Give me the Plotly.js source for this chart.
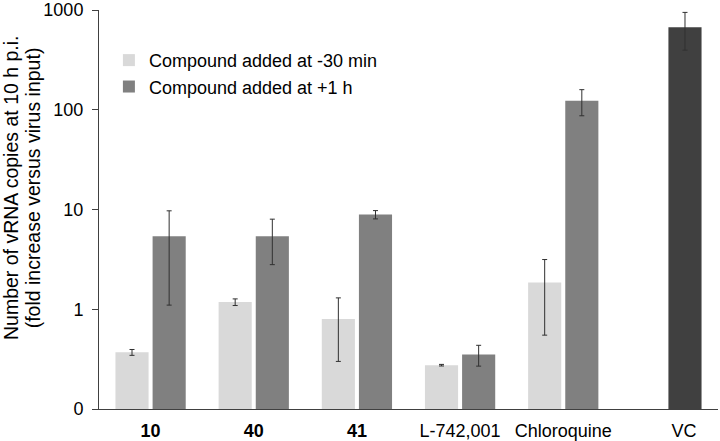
<!DOCTYPE html>
<html>
<head>
<meta charset="utf-8">
<script src="https://cdn.plot.ly/plotly-3.0.1.min.js"></script>
<style>html,body{margin:0;padding:0;background:#fff;}#chart{width:720px;height:441px;}</style>
</head>
<body>
<div id="chart"></div>
<script>
// Data
var categories = ['10', '40', '41', 'L-742,001', 'Chloroquine', 'VC'];
var tickLabels = ['<b>10</b>', '<b>40</b>', '<b>41</b>', 'L-742,001', 'Chloroquine', '\u00A0\u00A0\u00A0\u00A0\u00A0\u00A0\u00A0VC'];
var seriesNames = ['Compound added at -30 min', 'Compound added at +1 h'];
var earlyValues = [0.37, 1.18, 0.80, 0.275, 1.85, null];
var earlyErrors = [0.025, 0.09, 0.5, 0.005, 1.3, null];
var lateValues = [5.4, 5.4, 8.9, 0.352, 123, 671];
var lateErrors = [4.3, 2.6, 0.85, 0.083, 36, 275];
var yTickVals = [0.1, 1, 10, 100, 1000];
var yTickText = ['0', '1', '10', '100', '1000'];
var yTitleLines = ['Number of vRNA copies at 10 h p.i.', '(fold increase versus virus input)'];

var lightColor = '#d9d9d9';
var darkColor = '#808080';
var vcColor = '#404040';
var errColor = '#303030';
var font = 'Liberation Sans, Arial, sans-serif';

var traces = [
  {
    type: 'bar', name: seriesNames[0], x: categories, y: earlyValues,
    marker: {color: lightColor},
    error_y: {type: 'data', array: earlyErrors, visible: true, color: errColor, thickness: 1, width: 2.5}
  },
  {
    type: 'bar', name: seriesNames[1], x: categories, y: lateValues,
    marker: {color: categories.map(function (c) { return c === 'VC' ? vcColor : darkColor; })},
    error_y: {type: 'data', array: lateErrors, visible: true, color: errColor, thickness: 1, width: 2.5}
  }
];

var layout = {
  width: 720, height: 441,
  margin: {l: 99, r: 2, t: 10, b: 32, pad: 0},
  paper_bgcolor: '#ffffff', plot_bgcolor: '#ffffff',
  font: {family: font, size: 18, color: '#000000'},
  barmode: 'group', bargap: 0.28, bargroupgap: 0.108,
  showlegend: true,
  legend: {x: 0.016, y: 0.92, xanchor: 'left', yanchor: 'top', bgcolor: 'rgba(0,0,0,0)',
           font: {family: font, size: 18, color: '#000000'}, tracegroupgap: 0, itemwidth: 30},
  xaxis: {
    type: 'category', range: [-0.5, 5.5], fixedrange: true,
    showline: true, linecolor: '#404040', linewidth: 1, ticks: '', showgrid: false, zeroline: false,
    tickvals: categories, ticktext: tickLabels, ticklabelstandoff: 5,
    tickfont: {family: font, size: 18, color: '#000000'}
  },
  yaxis: {
    type: 'log', range: [-1, 3], fixedrange: true,
    showline: true, linecolor: '#404040', linewidth: 1,
    ticks: 'outside', ticklen: 6, tickcolor: '#404040', showgrid: false, zeroline: false,
    tickvals: yTickVals, ticktext: yTickText, ticklabelstandoff: 5,
    tickfont: {family: font, size: 18, color: '#000000'}
  },
  annotations: [
    {text: yTitleLines[0], xref: 'paper', yref: 'paper', x: -0.143, y: 0.555, xanchor: 'center', yanchor: 'middle',
     textangle: -90, showarrow: false, font: {family: font, size: 19.5, color: '#000000'}},
    {text: yTitleLines[1], xref: 'paper', yref: 'paper', x: -0.107, y: 0.555, xanchor: 'center', yanchor: 'middle',
     textangle: -90, showarrow: false, font: {family: font, size: 19.5, color: '#000000'}}
  ]
};

Plotly.newPlot('chart', traces, layout, {displayModeBar: false, staticPlot: true});
</script>
</body>
</html>
